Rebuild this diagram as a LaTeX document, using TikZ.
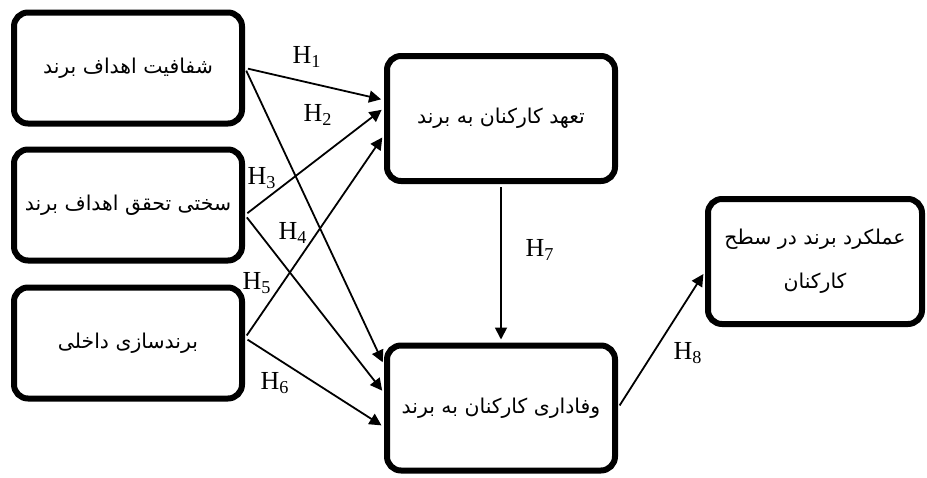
\documentclass[tikz,border=0pt]{standalone}
\usepackage{fontspec}
\setmainfont{Liberation Serif}
\newfontfamily\farsi[Script=Arabic]{DejaVu Sans}
\TeXXeTstate=1
\usetikzlibrary{arrows.meta}

\begin{document}
\begin{tikzpicture}[x=0.5pt, y=-0.5pt]
\tikzset{
	box/.style = {
		draw, line width=3pt,
		rounded corners=7pt,
		minimum width=114pt, minimum height=55.5pt,
		align=center, font=\farsi\fontsize{10.2}{22}\selectfont
	},
	tall/.style={
		minimum height=62.5pt
	},
	every edge/.style={
		draw, line width=0.9pt,
		-{Triangle[length=6pt,width=6pt]},
		shorten <=1.5pt, shorten >=1.5pt
	},
	hlab/.style={
		font=\fontsize{13}{15}\selectfont, inner sep=0pt
	},
}
\useasboundingbox (0,0) rectangle (927,477);

% the boxes
\node [box] (trans) at (128, 68) {\beginR شفافیت اهداف برند\endR};
\node [box] (hard) at (128, 205) {\beginR سختی تحقق اهداف برند\endR};
\node [box] (inner) at (128, 343) {\beginR برندسازی داخلی\endR};

\node [box, tall] (commit) at (501, 118.5) {\beginR تعهد کارکنان به برند\endR};
\node [box, tall] (loyal) at (501, 408) {\beginR وفاداری کارکنان به برند\endR};

\node [box, tall, minimum width=107pt] (perf) at (815, 261.5)
	{\beginR عملکرد برند در سطح\endR\\\beginR کارکنان\endR};

% the hypotheses
\path (trans.east) edge ([yshift=9.25pt]commit.west);
\path (trans.east) edge ([yshift=21.5pt]loyal.west);
\path ([yshift=-5pt]hard.east) edge ([yshift=5.25pt]commit.west);
\path ([yshift=-5pt]hard.east) edge ([yshift=7.5pt]loyal.west);
\path ([yshift=2.5pt]inner.east) edge ([yshift=-8.25pt]commit.west);
\path ([yshift=2.5pt]inner.east) edge ([yshift=-9.5pt]loyal.west);
\path (commit.south) edge (loyal.north);
\path (loyal.east) edge ([yshift=-5pt]perf.west);

% labels
\node [hlab] (h1) at (307, 57) {H\textsubscript{1}};
\node [hlab] (h2) at (318, 115) {H\textsubscript{2}};
\node [hlab] (h3) at (262, 178) {H\textsubscript{3}};
\node [hlab] (h4) at (293, 233) {H\textsubscript{4}};
\node [hlab] (h5) at (257, 283) {H\textsubscript{5}};
\node [hlab] (h6) at (275, 383) {H\textsubscript{6}};
\node [hlab] (h7) at (540, 250) {H\textsubscript{7}};
\node [hlab] (h8) at (688, 353) {H\textsubscript{8}};

\end{tikzpicture}
\end{document}
